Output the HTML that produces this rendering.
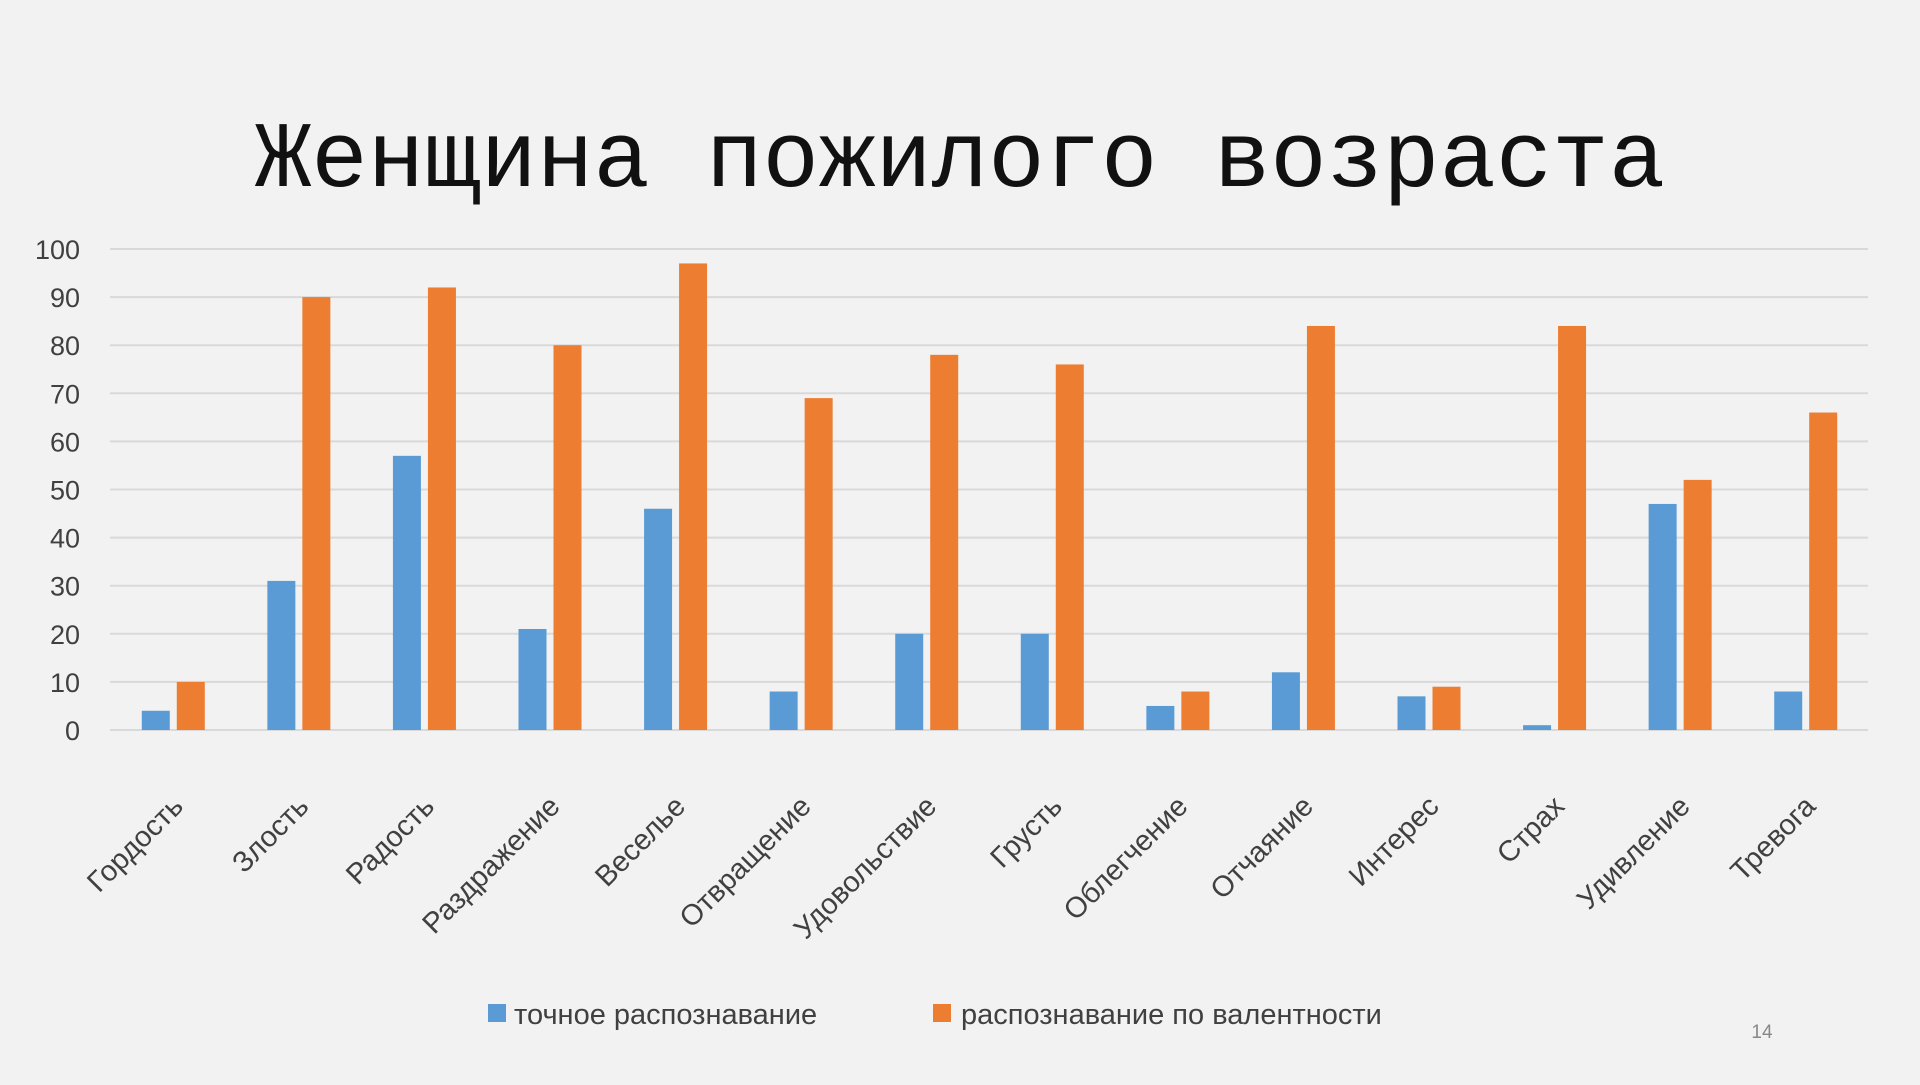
<!DOCTYPE html>
<html><head><meta charset="utf-8"><style>
body{margin:0;background:#f2f2f2;width:1920px;height:1080px;overflow:hidden;font-family:"Liberation Sans","DejaVu Sans",sans-serif}
</style></head><body>
<svg id="c" width="1920" height="1080">
<text x="960" y="186" text-anchor="middle" font-family="Liberation Mono, monospace" font-size="94" fill="#111">Женщина пожилого возраста</text>
<g id="grid"></g><g id="bars"></g><g id="labels"></g>
<g>
<rect x="488" y="1004" width="18" height="18" fill="#5b9bd5"/>
<text x="514" y="1024" font-size="29" fill="#404040">точное распознавание</text>
<rect x="933" y="1004" width="18" height="18" fill="#ed7d31"/>
<text x="961" y="1024" font-size="29" fill="#404040">распознавание по валентности</text>
</g>
<text x="1762" y="1038" text-anchor="middle" font-size="19" fill="#888">14</text>
</svg>
<script>
const categories=["Гордость","Злость","Радость","Раздражение","Веселье","Отвращение","Удовольствие","Грусть","Облегчение","Отчаяние","Интерес","Страх","Удивление","Тревога"];
const exactValues=[4,31,57,21,46,8,20,20,5,12,7,1,47,8];
const valenceValues=[10,90,92,80,97,69,78,76,8,84,9,84,52,66];
const yTicks=[0,10,20,30,40,50,60,70,80,90,100];
const NS="http://www.w3.org/2000/svg";
const L=110,R=1868,T=249,B=730;
const y=v=>B-(v/100)*(B-T);
const bw=(R-L)/categories.length;
const cx=i=>L+bw*(i+0.5);
function mk(t,a,p){const e=document.createElementNS(NS,t);for(const k in a)e.setAttribute(k,a[k]);p.appendChild(e);return e;}
const g=document.getElementById('grid');
yTicks.forEach(v=>{
 const l=mk('line',{x1:L,x2:R,y1:y(v),y2:y(v),stroke:'#d9d9d9','stroke-width':2},g);
 
 
 const t=mk('text',{x:80,y:y(v)+10,'text-anchor':'end','font-size':27,fill:'#404040'},g);
 t.textContent=v;
 
 
});
const bg=document.getElementById('bars'),lg=document.getElementById('labels');
categories.forEach((c,i)=>{
 const x=cx(i);
 const b1=mk('rect',{x:x-31,y:y(exactValues[i]),width:28,height:B-y(exactValues[i]),fill:'#5b9bd5'},bg);
 
 
 const b2=mk('rect',{x:x+4,y:y(valenceValues[i]),width:28,height:B-y(valenceValues[i]),fill:'#ed7d31'},bg);
 
 
 const t=mk('text',{x:x+12,y:808,'text-anchor':'end','font-size':29,fill:'#404040',transform:'rotate(-45 '+(x+12)+' 808)'},lg);
 t.textContent=c;
 
 
});
</script>
</body></html>
